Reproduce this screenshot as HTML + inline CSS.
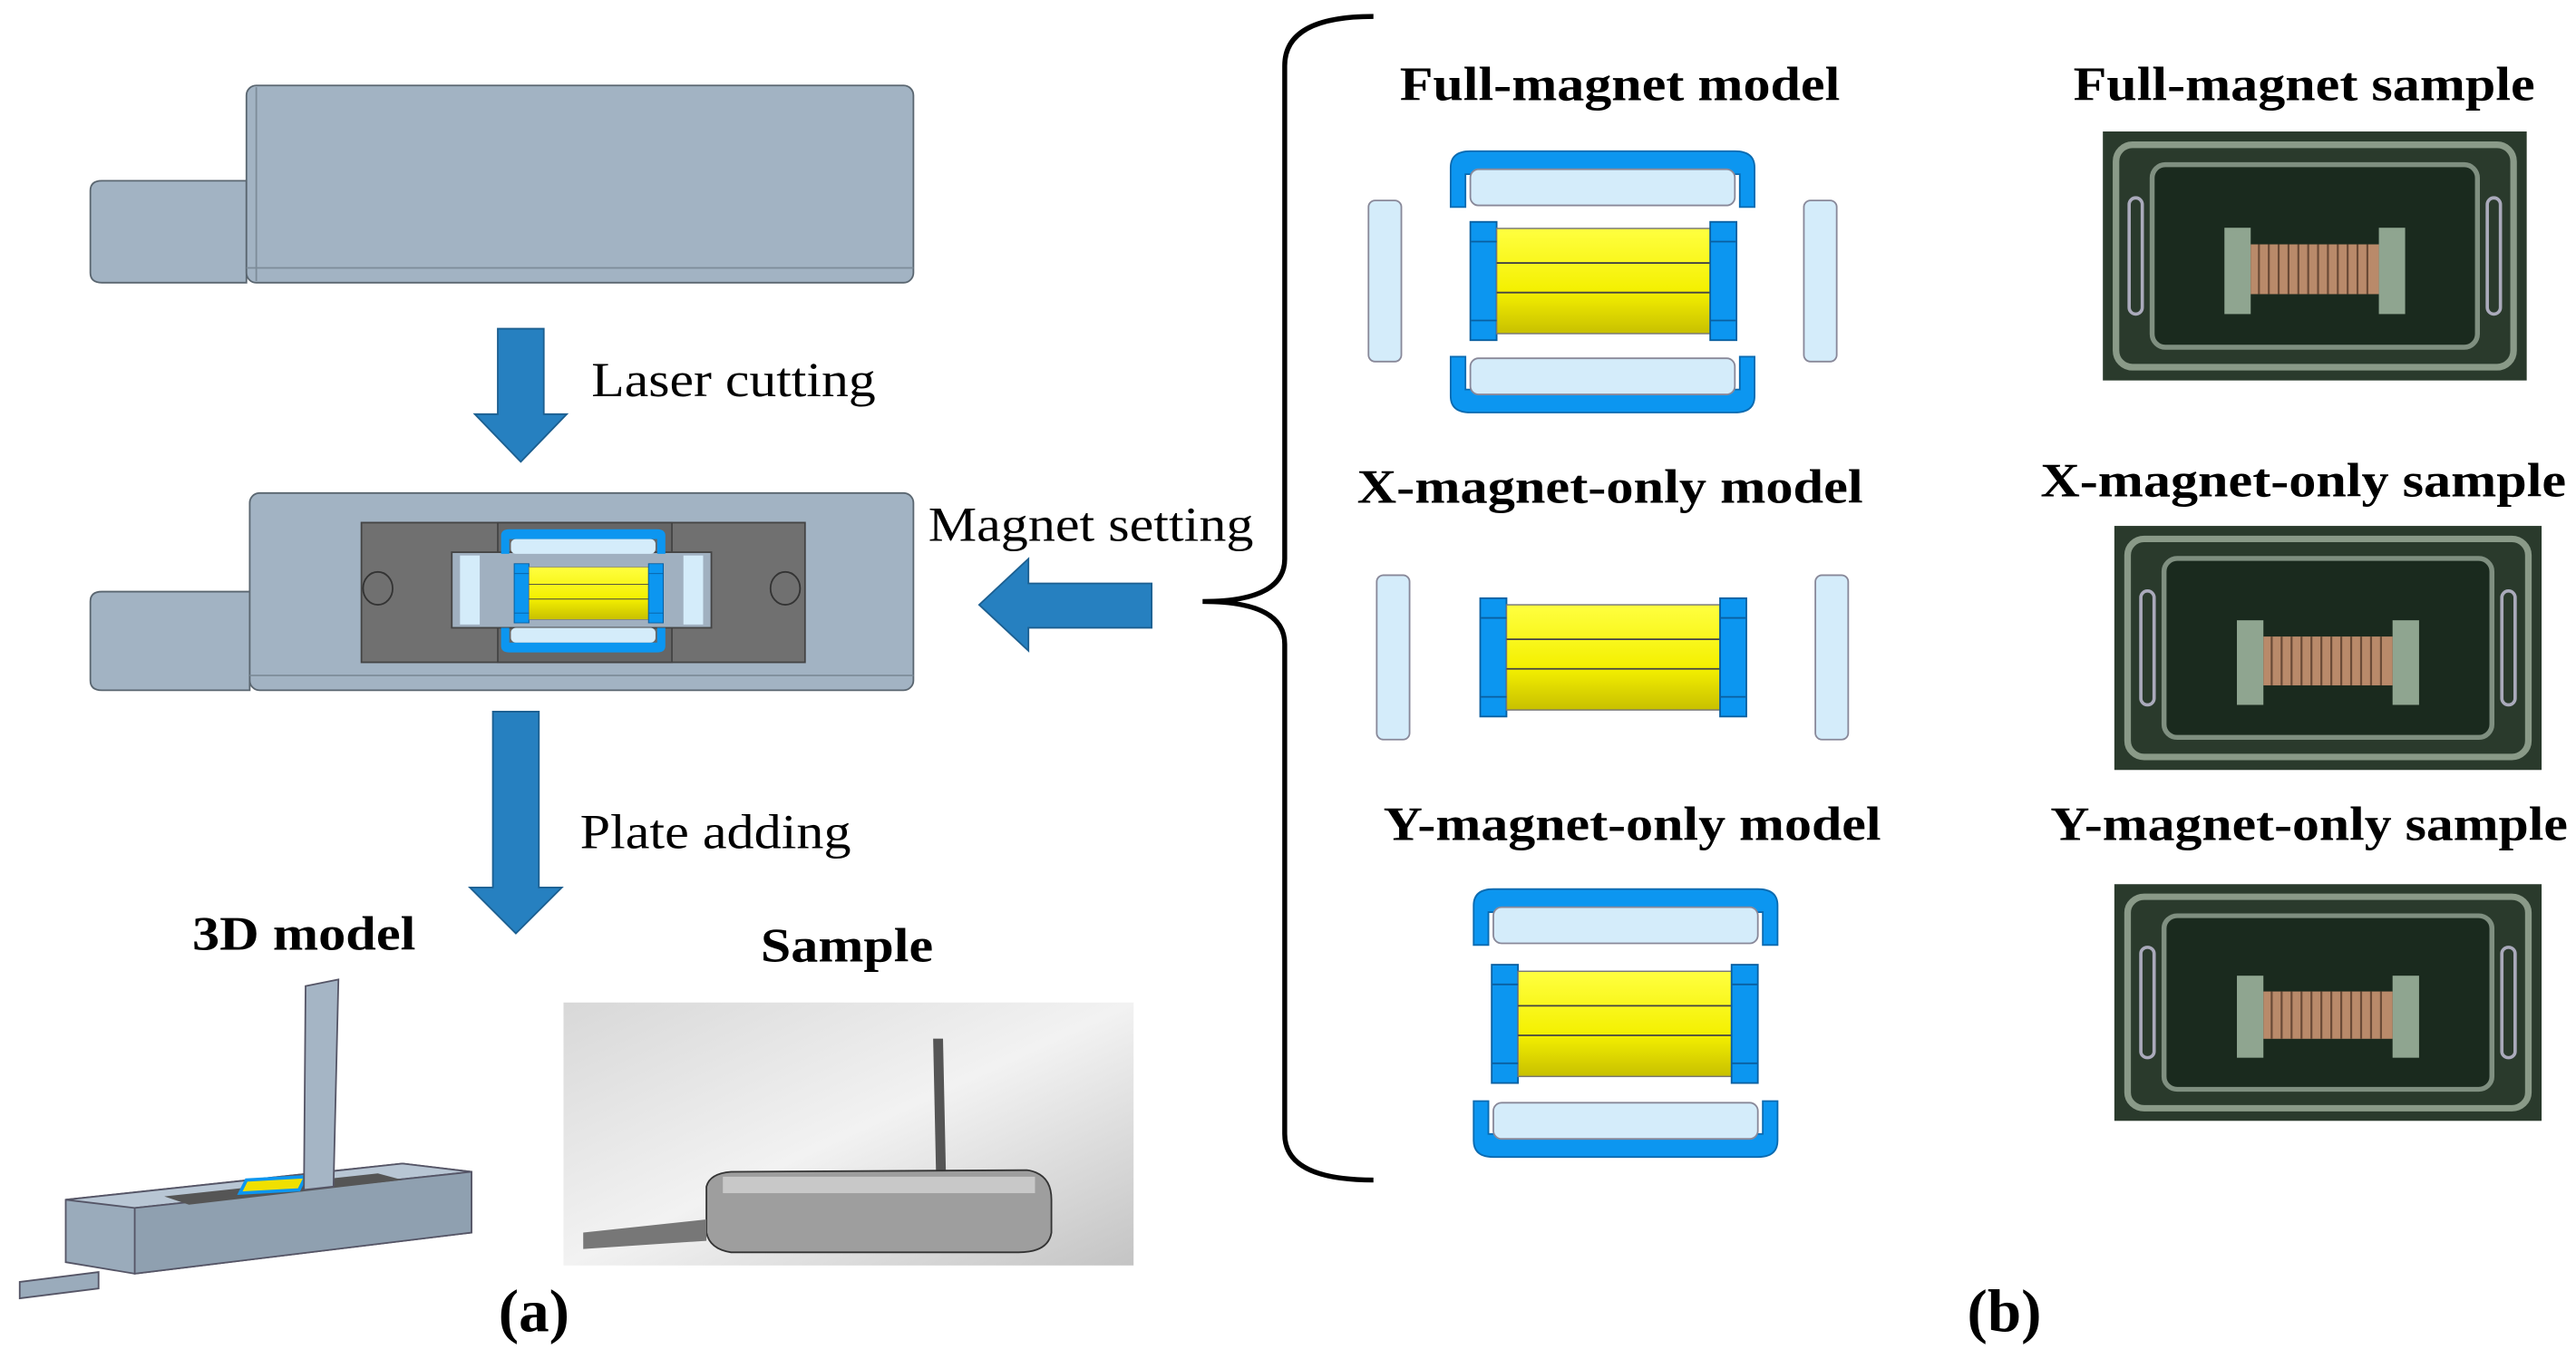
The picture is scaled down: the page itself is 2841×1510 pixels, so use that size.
<!DOCTYPE html>
<html><head><meta charset="utf-8"><style>
html,body{margin:0;padding:0;background:#fff}
svg{display:block}
text{font-family:"Liberation Serif",serif}
.b{font-weight:bold}
</style></head><body>
<svg width="2841" height="1510" viewBox="0 0 1568 833" preserveAspectRatio="none" xmlns="http://www.w3.org/2000/svg">
<defs>
<linearGradient id="yl" x1="0" y1="0" x2="0" y2="1"><stop offset="0" stop-color="#ffff40"/><stop offset="0.6" stop-color="#f4f000"/><stop offset="1" stop-color="#c8c000"/></linearGradient>
<linearGradient id="ph" x1="0" y1="0" x2="1" y2="1"><stop offset="0" stop-color="#d8d8d8"/><stop offset="0.5" stop-color="#f2f2f2"/><stop offset="1" stop-color="#c4c4c4"/></linearGradient>
<g id="coil">
<rect x="0" y="0" width="16" height="72" fill="#0c96f0" stroke="#0a5fa0" stroke-width="1"/>
<rect x="16" y="4" width="130" height="64" fill="url(#yl)" stroke="#777" stroke-width="0.8"/>
<line x1="16" y1="25" x2="146" y2="25" stroke="#444" stroke-width="1"/>
<line x1="16" y1="43" x2="146" y2="43" stroke="#444" stroke-width="1"/>
<rect x="146" y="0" width="16" height="72" fill="#0c96f0" stroke="#0a5fa0" stroke-width="1"/>
<line x1="0" y1="12" x2="16" y2="12" stroke="#0a5fa0"/><line x1="0" y1="60" x2="16" y2="60" stroke="#0a5fa0"/>
<line x1="146" y1="12" x2="162" y2="12" stroke="#0a5fa0"/><line x1="146" y1="60" x2="162" y2="60" stroke="#0a5fa0"/>
</g>
<g id="cmagT">
<path d="M0,34 L0,10 Q0,0 12,0 L173,0 Q185,0 185,10 L185,34 L176,34 L176,14 L9,14 L9,34 Z" fill="#0c96f0" stroke="#0a6ab0"/>
<rect x="12" y="11" width="161" height="22" rx="5" fill="#d4ecfa" stroke="#889"/>
</g>
<g id="cmagB">
<path d="M0,0 L0,24 Q0,34 12,34 L173,34 Q185,34 185,24 L185,0 L176,0 L176,20 L9,20 L9,0 Z" fill="#0c96f0" stroke="#0a6ab0"/>
<rect x="12" y="1" width="161" height="22" rx="5" fill="#d4ecfa" stroke="#889"/>
</g>
<g id="photo">
<rect x="0" y="0" width="258" height="150" fill="#2a3a2c"/>
<rect x="8" y="8" width="242" height="134" rx="10" fill="none" stroke="#8a9a88" stroke-width="4"/>
<rect x="30" y="20" width="198" height="110" rx="8" fill="#1a2a1e" stroke="#7f8f80" stroke-width="3"/>
<rect x="16" y="40" width="8" height="70" rx="4" fill="none" stroke="#aab" stroke-width="2"/>
<rect x="234" y="40" width="8" height="70" rx="4" fill="none" stroke="#aab" stroke-width="2"/>
<rect x="74" y="58" width="16" height="52" fill="#8fa590"/>
<rect x="168" y="58" width="16" height="52" fill="#8fa590"/>
<rect x="90" y="68" width="78" height="30" fill="#b98a6a"/>
<g stroke="#6a4a36" stroke-width="1.2">
<line x1="95" y1="68" x2="95" y2="98"/><line x1="101" y1="68" x2="101" y2="98"/><line x1="107" y1="68" x2="107" y2="98"/><line x1="113" y1="68" x2="113" y2="98"/><line x1="119" y1="68" x2="119" y2="98"/><line x1="125" y1="68" x2="125" y2="98"/><line x1="131" y1="68" x2="131" y2="98"/><line x1="137" y1="68" x2="137" y2="98"/><line x1="143" y1="68" x2="143" y2="98"/><line x1="149" y1="68" x2="149" y2="98"/><line x1="155" y1="68" x2="155" y2="98"/><line x1="161" y1="68" x2="161" y2="98"/>
</g>
</g>
</defs>

<path d="M55,116 Q55,110 62,110 L150,110 L150,172 L62,172 Q55,172 55,166 Z" fill="#a2b3c3" stroke="#5a6670"/>
<rect x="150" y="52" width="406" height="120" rx="6" fill="#a2b3c3" stroke="#5a6670"/>
<line x1="156" y1="53" x2="156" y2="171" stroke="#7d8c99"/><line x1="150" y1="163" x2="556" y2="163" stroke="#7d8c99"/>

<path d="M303,200 L331,200 L331,252 L345,252 L317,281 L289,252 L303,252 Z" fill="#2680c0" stroke="#1c5f90"/>
<text x="360" y="241" font-size="30" textLength="173" lengthAdjust="spacingAndGlyphs">Laser cutting</text>

<path d="M55,366 Q55,360 62,360 L152,360 L152,420 L62,420 Q55,420 55,414 Z" fill="#a2b3c3" stroke="#5a6670"/>
<rect x="152" y="300" width="404" height="120" rx="6" fill="#a2b3c3" stroke="#5a6670"/>
<line x1="152" y1="411" x2="556" y2="411" stroke="#7d8c99"/>
<rect x="220" y="318" width="270" height="85" fill="#707070" stroke="#444"/>
<rect x="303" y="318" width="106" height="85" fill="#666" stroke="#444"/>
<ellipse cx="230" cy="358" rx="9" ry="10" fill="none" stroke="#333"/>
<ellipse cx="478" cy="358" rx="9" ry="10" fill="none" stroke="#333"/>
<rect x="275" y="336" width="158" height="46" fill="#a0b0c0" stroke="#444"/>
<rect x="280" y="338" width="12" height="42" fill="#d4ecfa"/><rect x="416" y="338" width="12" height="42" fill="#d4ecfa"/>
<path d="M305,337 L305,326 Q305,322 310,322 L400,322 Q405,322 405,326 L405,337 L400,337 L400,328 L310,328 L310,337Z" fill="#0c96f0"/>
<rect x="311" y="328" width="88" height="9" rx="3" fill="#d4ecfa"/>
<path d="M305,382 L305,393 Q305,397 310,397 L400,397 Q405,397 405,393 L405,382 L400,382 L400,391 L310,391 L310,382Z" fill="#0c96f0"/>
<rect x="311" y="382" width="88" height="9" rx="3" fill="#d4ecfa"/>
<use href="#coil" transform="translate(313,343) scale(0.56,0.5)"/>

<path d="M701,355 L701,382 L626,382 L626,396 L596,368 L626,340 L626,355 Z" fill="#2680c0" stroke="#1c5f90"/>
<text x="565" y="329" font-size="30" textLength="198" lengthAdjust="spacingAndGlyphs">Magnet setting</text>

<path d="M300,433 L328,433 L328,540 L342,540 L314,568 L286,540 L300,540 Z" fill="#2680c0" stroke="#1c5f90"/>
<text x="353" y="516" font-size="30" textLength="165" lengthAdjust="spacingAndGlyphs">Plate adding</text>

<text x="117" y="578" font-size="29" class="b" textLength="136" lengthAdjust="spacingAndGlyphs">3D model</text>
<text x="463" y="585" font-size="29" class="b" textLength="105" lengthAdjust="spacingAndGlyphs">Sample</text>

<!-- 3D model -->
<path d="M12,780 L12,790 L60,784 L60,774 Z" fill="#9aabbb" stroke="#556"/>
<path d="M40,730 L245,708 L287,713 L287,750 L82,775 L40,768 Z" fill="#9aabbb" stroke="#556"/>
<path d="M40,730 L245,708 L287,713 L82,735 Z" fill="#b8c6d4" stroke="#556"/>
<path d="M82,735 L287,713 L287,750 L82,775 Z" fill="#8fa0b0" stroke="#556"/>
<path d="M100,728 L230,714 L245,718 L115,733 Z" fill="#555"/>
<path d="M150,718 L186,716 L182,724 L146,726 Z" fill="#f0e000" stroke="#0c96f0" stroke-width="2"/>
<path d="M186,600 L206,596 L203,722 L185,724 Z" fill="#a5b5c5" stroke="#556"/>

<rect x="343" y="610" width="347" height="160" fill="url(#ph)"/>
<path d="M568,632 L574,632 L576,725 L570,725 Z" fill="#555"/>
<path d="M430,722 Q432,714 445,713 L625,712 Q640,714 640,730 L640,750 Q638,762 620,762 L445,762 Q432,760 430,750 Z" fill="#9e9e9e" stroke="#333"/>
<path d="M355,750 L430,742 L430,755 L355,760 Z" fill="#777"/>
<rect x="440" y="716" width="190" height="10" fill="#c8c8c8"/>

<text x="325" y="810" font-size="37" class="b" text-anchor="middle">(a)</text>
<text x="1220" y="810" font-size="37" class="b" text-anchor="middle">(b)</text>

<path d="M836,10 Q782,10 782,40 L782,340 Q782,366 732,366 Q782,366 782,392 L782,690 Q782,718 836,718" fill="none" stroke="#000" stroke-width="3"/>

<text x="852" y="61" font-size="29" class="b" textLength="268" lengthAdjust="spacingAndGlyphs">Full-magnet model</text>
<use href="#cmagT" transform="translate(883,92)"/>
<use href="#cmagB" transform="translate(883,217)"/>
<rect x="833" y="122" width="20" height="98" rx="4" fill="#d4ecfa" stroke="#889"/>
<rect x="1098" y="122" width="20" height="98" rx="4" fill="#d4ecfa" stroke="#889"/>
<use href="#coil" transform="translate(895,135)"/>

<text x="826" y="306" font-size="29" class="b" textLength="308" lengthAdjust="spacingAndGlyphs">X-magnet-only model</text>
<rect x="838" y="350" width="20" height="100" rx="4" fill="#d4ecfa" stroke="#889"/>
<rect x="1105" y="350" width="20" height="100" rx="4" fill="#d4ecfa" stroke="#889"/>
<use href="#coil" transform="translate(901,364)"/>

<text x="842" y="511" font-size="29" class="b" textLength="303" lengthAdjust="spacingAndGlyphs">Y-magnet-only model</text>
<use href="#cmagT" transform="translate(897,541)"/>
<use href="#cmagB" transform="translate(897,670)"/>
<use href="#coil" transform="translate(908,587)"/>

<text x="1262" y="61" font-size="29" class="b" textLength="281" lengthAdjust="spacingAndGlyphs">Full-magnet sample</text>
<use href="#photo" transform="translate(1280,80) scale(1,1.01)"/>
<text x="1242" y="302" font-size="29" class="b" textLength="320" lengthAdjust="spacingAndGlyphs">X-magnet-only sample</text>
<use href="#photo" transform="translate(1287,320) scale(1.008,0.99)"/>
<text x="1248" y="511" font-size="29" class="b" textLength="315" lengthAdjust="spacingAndGlyphs">Y-magnet-only sample</text>
<use href="#photo" transform="translate(1287,538) scale(1.008,0.96)"/>
</svg>
</body></html>
